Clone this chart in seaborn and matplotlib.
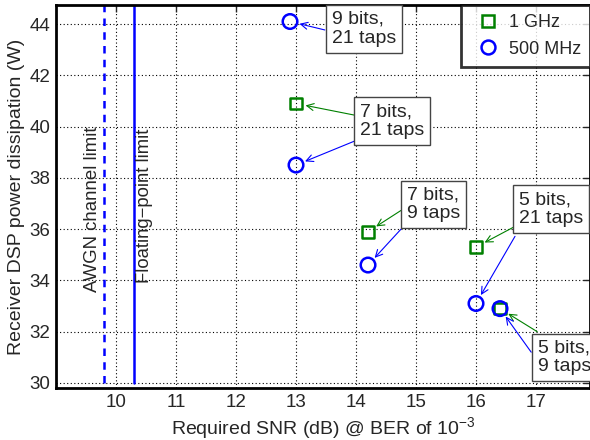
import numpy as np
import pandas as pd
import matplotlib
matplotlib.use("Agg")
import matplotlib.pyplot as plt
import seaborn as sns

# data
snr_1ghz = [13.0, 14.2, 16.0, 16.4]
pwr_1ghz = [40.9, 35.9, 35.3, 32.9]
snr_500 = [12.9, 13.0, 14.2, 16.0, 16.4]
pwr_500 = [44.1, 38.5, 34.6, 33.1, 32.9]
awgn_limit = 9.8
float_limit = 10.3

x_ticks = list(range(10, 18))
y_ticks = list(range(30, 45, 2))

df = pd.DataFrame({
    "snr": snr_1ghz + snr_500,
    "power": pwr_1ghz + pwr_500,
    "clock": ["1 GHz"] * len(snr_1ghz) + ["500 MHz"] * len(snr_500),
})

sns.set_style("white")
plt.rcParams["font.family"] = ["Liberation Sans", "DejaVu Sans"]
plt.rcParams["mathtext.fontset"] = "custom"
plt.rcParams["mathtext.rm"] = "Liberation Sans"

green = (0, 0.5, 0)
blue = (0, 0, 1)
fs = 14

fig = plt.figure(figsize=(5.9, 4.4), dpi=100)
ax = fig.add_axes([0.095, 0.118, 0.905, 0.871])

sns.scatterplot(data=df, x="snr", y="power", hue="clock", style="clock",
                palette={"1 GHz": green, "500 MHz": blue},
                markers={"1 GHz": "s", "500 MHz": "o"},
                size="clock", sizes={"1 GHz": 70, "500 MHz": 110},
                ax=ax, legend=False, zorder=5)
for c in ax.collections:
    fc = c.get_facecolors()
    c.set_edgecolors(fc)
    c.set_facecolors("none")
    c.set_linewidths(1.8)

ax.plot([awgn_limit, awgn_limit], [30, 44.75], color=blue, ls=(0, (3, 2.5)), lw=1.8)
ax.plot([float_limit, float_limit], [30, 44.75], color=blue, lw=1.8)
ax.text(awgn_limit - 0.2, 33.55, "AWGN channel limit", rotation=90, ha="center",
        va="bottom", fontsize=13.4)
ax.text(float_limit + 0.18, 33.9, "Floating\u2212point limit", rotation=90, ha="center",
        va="bottom", fontsize=13.3)

ax.set_xlim(9, 17.9)
ax.set_ylim(29.8, 44.75)
ax.set_xticks(x_ticks)
ax.set_yticks(y_ticks)
ax.tick_params(direction="in", length=5, width=1, labelsize=13.5,
               top=True, right=True, pad=4)
ax.grid(True, color="black", ls=(0, (1, 2.2)), lw=0.8)
for s in ax.spines.values():
    s.set_linewidth(2)
    s.set_color("black")
ax.set_xlabel("Required SNR (dB) @ BER of $\\mathregular{10^{-3}}$", fontsize=fs, labelpad=3)
ax.set_ylabel("Receiver DSP power dissipation (W)", fontsize=fs, labelpad=3)

box = dict(boxstyle="square,pad=0.3", fc="white", ec="#444444", lw=1)
tkw = dict(fontsize=fs, va="top", ha="left", bbox=box, zorder=6, linespacing=1.15)
ax.text(13.6, 44.51, "9 bits,\n21 taps", **tkw)
ax.text(14.07, 40.91, "7 bits,\n21 taps", **tkw)
ax.text(14.85, 37.67, "7 bits,\n9 taps", **tkw)
ax.text(16.72, 37.48, "5 bits,\n21 taps", **tkw)
ax.text(17.03, 31.70, "5 bits,\n9 taps", **tkw)


def arrow(target, start, color):
    ax.annotate("", xy=target, xytext=start, zorder=4,
                arrowprops=dict(arrowstyle="->,head_length=0.5,head_width=0.25",
                                color=color, lw=0.8, shrinkA=0, shrinkB=7))


arrow((snr_500[0], pwr_500[0]), (13.48, 43.77), blue)
arrow((snr_1ghz[0], pwr_1ghz[0]), (13.97, 40.45), green)
arrow((snr_500[1], pwr_500[1]), (13.97, 39.43), blue)
arrow((snr_1ghz[1], pwr_1ghz[1]), (14.75, 36.73), green)
arrow((snr_500[2], pwr_500[2]), (14.75, 36.0), blue)
arrow((snr_1ghz[2], pwr_1ghz[2]), (16.62, 36.07), green)
arrow((snr_500[3], pwr_500[3]), (16.65, 35.72), blue)
arrow((snr_1ghz[3], pwr_1ghz[3]), (17.02, 32.0), green)
arrow((snr_500[4], pwr_500[4]), (16.92, 31.2), blue)

h1 = plt.Line2D([], [], ls="none", marker="s", ms=8, mfc="none", mec=green, mew=1.8)
h2 = plt.Line2D([], [], ls="none", marker="o", ms=10, mfc="none", mec=blue, mew=1.8)
leg = ax.legend([h1, h2], ["1 GHz", "500 MHz"], loc="upper right", borderaxespad=0,
                fontsize=13, frameon=True, fancybox=False, handletextpad=0.15,
                handlelength=2.0, borderpad=0.5, labelspacing=0.55)
leg.get_frame().set_edgecolor("black")
leg.get_frame().set_linewidth(2)
leg.set_zorder(7)

fig.savefig("out.png", dpi=100)
